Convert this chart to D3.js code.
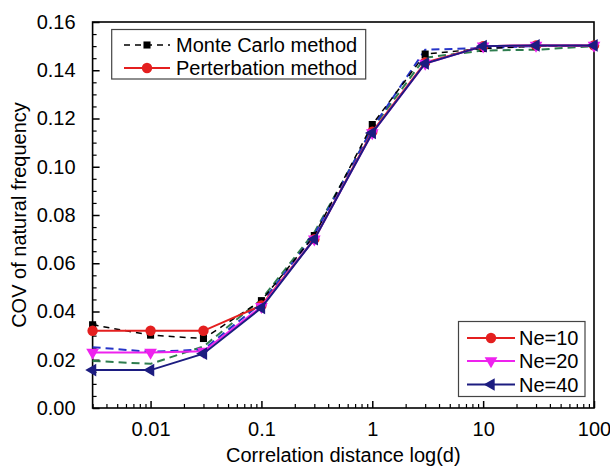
<!DOCTYPE html>
<html>
<head>
<meta charset="utf-8">
<script src="https://cdn.jsdelivr.net/npm/d3@7"></script>
<style>
  body { margin: 0; background: #fff; }
  text { font-family: "Liberation Sans", Arial, sans-serif; fill: #000; }
</style>
</head>
<body>
<div id="chart-area"></div>
<script>
// data
const distances = [0.003, 0.01, 0.03, 0.1, 0.3, 1, 3, 10, 30, 100];
const mcNe10  = [0.0345, 0.0302, 0.0288, 0.0445, 0.0715, 0.1175, 0.1467, 0.1490, 0.1500, 0.1502];
const mcNe20  = [0.0252, 0.0233, 0.0242, 0.0435, 0.0718, 0.1160, 0.1485, 0.1492, 0.1500, 0.1502];
const mcNe40  = [0.0195, 0.0183, 0.0255, 0.0450, 0.0728, 0.1158, 0.1452, 0.1482, 0.1485, 0.1500];
const perNe10 = [0.0320, 0.0320, 0.0320, 0.0425, 0.0700, 0.1145, 0.1432, 0.1500, 0.1503, 0.1503];
const perNe20 = [0.0230, 0.0230, 0.0235, 0.0420, 0.0700, 0.1140, 0.1428, 0.1500, 0.1503, 0.1503];
const perNe40 = [0.0157, 0.0157, 0.0225, 0.0415, 0.0700, 0.1140, 0.1428, 0.1500, 0.1503, 0.1503];
const xTickLabels = ["0.01", "0.1", "1", "10", "100"];
const yTickValues = [0, 0.02, 0.04, 0.06, 0.08, 0.10, 0.12, 0.14, 0.16];

// set the dimensions and margins of the graph
const W = 610, H = 468;
const margin = {top: 22, right: 16, bottom: 60, left: 92.6};

const svg = d3.select("#chart-area")
    .append("svg")
    .attr("width", W)
    .attr("height", H);

const x = d3.scaleLog()
    .domain([0.003, 100])
    .range([margin.left, W - margin.right]);
const y = d3.scaleLinear()
    .domain([0, 0.16])
    .range([H - margin.bottom, margin.top]);

// ticks (inward, bottom and left only)
const xMinor = [];
[0.001, 0.01, 0.1, 1, 10].forEach(dec => {
    for (let k = 2; k <= 9; k++) {
        const v = dec * k;
        if (v >= 0.003 && v < 100 && Math.abs(Math.log10(v) % 1) > 1e-9) xMinor.push(v);
    }
});
const xAxis = d3.axisBottom(x)
    .tickValues(xTickLabels.map(Number))
    .tickFormat((d, i) => xTickLabels[i])
    .tickSizeInner(-7).tickSizeOuter(0).tickPadding(14);
const gx = svg.append("g")
    .attr("transform", `translate(0,${y(0)})`)
    .call(xAxis);
gx.select(".domain").remove();
gx.selectAll("text").style("font-size", "20px");
gx.selectAll("line").attr("stroke-width", 1.5);
svg.append("g")
    .attr("transform", `translate(0,${y(0)})`)
    .call(d3.axisBottom(x).tickValues(xMinor).tickFormat("").tickSizeInner(-4).tickSizeOuter(0))
    .call(g => g.select(".domain").remove())
    .selectAll("line").attr("stroke-width", 1.2);

const yAxis = d3.axisLeft(y)
    .tickValues(yTickValues)
    .tickFormat(d3.format(".2f"))
    .tickSizeInner(-7).tickSizeOuter(0).tickPadding(17);
const gy = svg.append("g")
    .attr("transform", `translate(${x(0.003)},0)`)
    .call(yAxis);
gy.select(".domain").remove();
gy.selectAll("text").style("font-size", "20px");
gy.selectAll("line").attr("stroke-width", 1.5);
const yMinor = d3.range(0.005, 0.16, 0.005).filter(v => Math.abs(v / 0.02 - Math.round(v / 0.02)) > 1e-6);
svg.append("g")
    .attr("transform", `translate(${x(0.003)},0)`)
    .call(d3.axisLeft(y).tickValues(yMinor).tickFormat("").tickSizeInner(-4).tickSizeOuter(0))
    .call(g => g.select(".domain").remove())
    .selectAll("line").attr("stroke-width", 1.2);

// frame
svg.append("rect")
    .attr("x", x(0.003)).attr("y", y(0.16))
    .attr("width", x(100) - x(0.003)).attr("height", y(0) - y(0.16))
    .attr("fill", "none").attr("stroke", "#000").attr("stroke-width", 1.6);

// axis titles
svg.append("text")
    .attr("x", (x(0.003) + x(100)) / 2).attr("y", 462)
    .attr("text-anchor", "middle")
    .style("font-size", "20px")
    .text("Correlation distance log(d)");
svg.append("text")
    .attr("transform", `translate(26,${(y(0) + y(0.16)) / 2}) rotate(-90)`)
    .attr("text-anchor", "middle")
    .style("font-size", "20px")
    .text("COV of natural frequency");

// series
const series = [
    {vals: mcNe40, color: "#2e7d4f", dash: "8,5", width: 2, sym: null},
    {vals: mcNe20, color: "#2634c8", dash: "8,5", width: 2, sym: null},
    {vals: mcNe10, color: "#000000", dash: "6,5", width: 1.5, sym: d3.symbolSquare, size: 50, rot: 0},
    {vals: perNe10, color: "#e41f1f", dash: null, width: 2, sym: d3.symbolCircle, size: 85, rot: 0},
    {vals: perNe20, color: "#ee22ee", dash: null, width: 2, sym: d3.symbolTriangle, size: 70, rot: 180},
    {vals: perNe40, color: "#1c1c80", dash: null, width: 2, sym: d3.symbolTriangle, size: 70, rot: -90}
];

const line = d3.line()
    .x(d => x(d[0]))
    .y(d => y(d[1]));

series.forEach(s => {
    const pts = distances.map((d, i) => [d, s.vals[i]]);
    svg.append("path")
        .datum(pts)
        .attr("d", line)
        .attr("fill", "none")
        .attr("stroke", s.color)
        .attr("stroke-width", s.width)
        .attr("stroke-dasharray", s.dash);
    if (s.sym) {
        svg.append("g").selectAll("path")
            .data(pts)
            .join("path")
            .attr("d", d3.symbol().type(s.sym).size(s.size))
            .attr("transform", d => `translate(${x(d[0])},${y(d[1])}) rotate(${s.rot})`)
            .attr("fill", s.color);
    }
});

// legends
function legendBox(bx, by, bw, bh, items) {
    const g = svg.append("g");
    g.append("rect")
        .attr("x", bx).attr("y", by).attr("width", bw).attr("height", bh)
        .attr("fill", "#fff").attr("stroke", "#444").attr("stroke-width", 1.2);
    items.forEach(it => {
        g.append("line")
            .attr("x1", it.x1).attr("x2", it.x2).attr("y1", it.y).attr("y2", it.y)
            .attr("stroke", it.s.color).attr("stroke-width", it.s.width)
            .attr("stroke-dasharray", it.s.dash);
        g.append("path")
            .attr("d", d3.symbol().type(it.s.sym).size(it.s.size))
            .attr("transform", `translate(${(it.x1 + it.x2) / 2},${it.y}) rotate(${it.s.rot})`)
            .attr("fill", it.s.color);
        g.append("text")
            .attr("x", it.tx).attr("y", it.y)
            .attr("dy", "0.35em")
            .style("font-size", "20px")
            .text(it.label);
    });
}

legendBox(111.7, 29.5, 254, 49.5, [
    {s: series[2], x1: 124, x2: 170, y: 45, tx: 176, label: "Monte Carlo method"},
    {s: series[3], x1: 124, x2: 170, y: 68, tx: 176, label: "Perterbation method"}
]);
legendBox(458.5, 321.5, 126.5, 75, [
    {s: series[3], x1: 467, x2: 515, y: 338, tx: 519, label: "Ne=10"},
    {s: series[4], x1: 467, x2: 515, y: 361, tx: 519, label: "Ne=20"},
    {s: series[5], x1: 467, x2: 515, y: 384.5, tx: 519, label: "Ne=40"}
]);
</script>
</body>
</html>
